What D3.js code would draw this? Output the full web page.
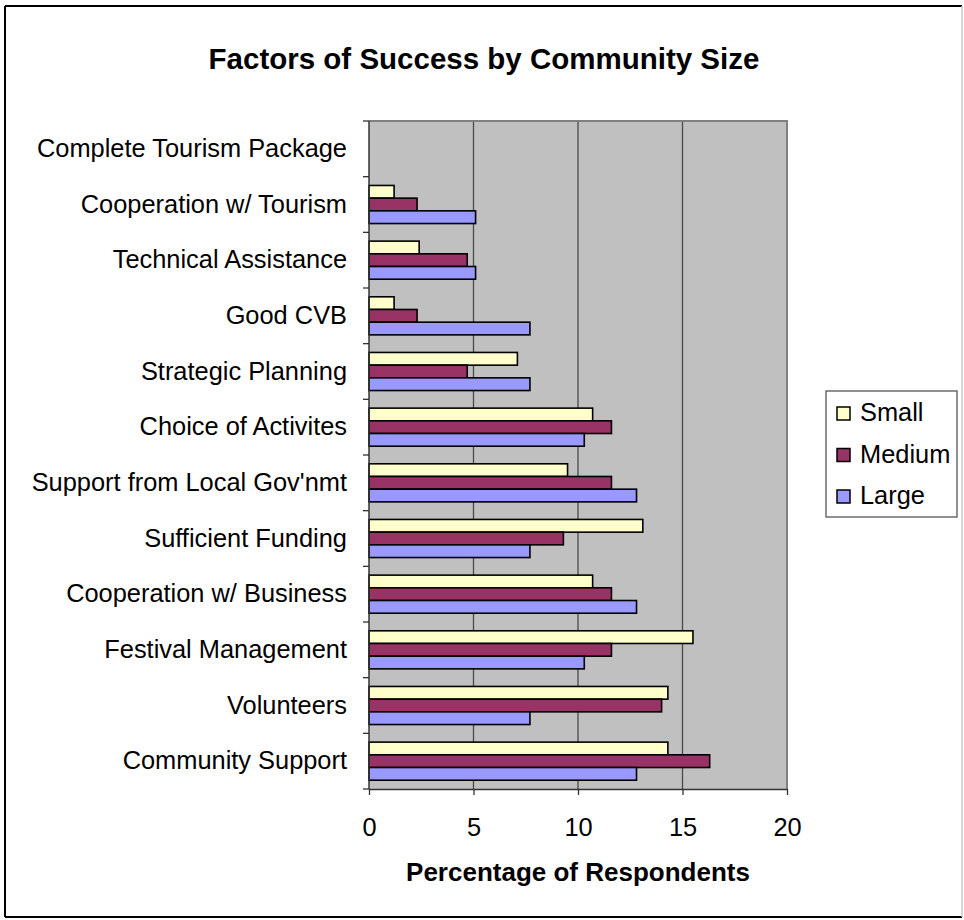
<!DOCTYPE html>
<html>
<head>
<meta charset="utf-8">
<script src="https://cdn.jsdelivr.net/npm/d3@7"></script>
<style>
  html, body { margin: 0; padding: 0; background: #fff; }
  svg { display: block; }
  text { font-family: "Liberation Sans", Arial, sans-serif; fill: #000; }
</style>
</head>
<body>
<svg id="chart" width="964" height="920"></svg>
<script>
// Categories, top to bottom as drawn
const categories = [
  "Complete Tourism Package",
  "Cooperation w/ Tourism",
  "Technical Assistance",
  "Good CVB",
  "Strategic Planning",
  "Choice of Activites",
  "Support from Local Gov'nmt",
  "Sufficient Funding",
  "Cooperation w/ Business",
  "Festival Management",
  "Volunteers",
  "Community Support"
];

const seriesNames = ["Small", "Medium", "Large"];

// Percentage of respondents by community size
const smallValues  = [0, 1.2, 2.4, 1.2, 7.1, 10.7, 9.5, 13.1, 10.7, 15.5, 14.3, 14.3];
const mediumValues = [0, 2.3, 4.7, 2.3, 4.7, 11.6, 11.6, 9.3, 11.6, 11.6, 14.0, 16.3];
const largeValues  = [0, 5.1, 5.1, 7.7, 7.7, 10.3, 12.8, 7.7, 12.8, 10.3, 7.7, 12.8];

const xTicks = [0, 5, 10, 15, 20];

const colors = { Small: "#FFFFCC", Medium: "#993366", Large: "#9999FF" };

const seriesValues = { Small: smallValues, Medium: mediumValues, Large: largeValues };

const svg = d3.select("#chart");

// Chart area frame
svg.append("rect").attr("x", 0).attr("y", 0).attr("width", 964).attr("height", 920).attr("fill", "#fff");
svg.append("line").attr("x1", 5).attr("x2", 962).attr("y1", 6).attr("y2", 6).attr("stroke", "#000").attr("stroke-width", 2);
svg.append("line").attr("x1", 5).attr("x2", 5).attr("y1", 6).attr("y2", 917).attr("stroke", "#000").attr("stroke-width", 2);
svg.append("line").attr("x1", 5).attr("x2", 962).attr("y1", 917).attr("y2", 917).attr("stroke", "#000").attr("stroke-width", 2);
svg.append("line").attr("x1", 962).attr("x2", 962).attr("y1", 6).attr("y2", 917).attr("stroke", "#c8c8c8").attr("stroke-width", 1.5);

const plot = { left: 369, right: 787, top: 121, bottom: 789 };

const x = d3.scaleLinear().domain([0, 20]).range([plot.left, plot.right]);
const y = d3.scaleBand().domain(categories).range([plot.top, plot.bottom]);
const bw = y.bandwidth();
const barH = bw * 0.228;
const sub = d3.scaleBand().domain(seriesNames)
  .range([(bw - 3 * barH) / 2, (bw + 3 * barH) / 2]);

// Plot background
svg.append("rect")
  .attr("x", plot.left).attr("y", plot.top)
  .attr("width", plot.right - plot.left).attr("height", plot.bottom - plot.top)
  .attr("fill", "#C0C0C0");

// Vertical gridlines
svg.append("g").selectAll("line")
  .data(xTicks.filter(d => d > 0 && d < 20))
  .join("line")
  .attr("x1", d => x(d)).attr("x2", d => x(d))
  .attr("y1", plot.top).attr("y2", plot.bottom)
  .attr("stroke", "#4a4a4a").attr("stroke-width", 1.3);

// Plot border (top and right)
svg.append("path")
  .attr("d", `M${plot.left},${plot.top}H${plot.right}V${plot.bottom}`)
  .attr("fill", "none").attr("stroke", "#808080").attr("stroke-width", 2);

// Bars
const rows = [];
categories.forEach((c, i) => {
  seriesNames.forEach(s => rows.push({ cat: c, series: s, value: seriesValues[s][i] }));
});

svg.append("g").selectAll("rect")
  .data(rows.filter(d => d.value > 0))
  .join("rect")
  .attr("x", x(0))
  .attr("y", d => y(d.cat) + sub(d.series))
  .attr("width", d => x(d.value) - x(0))
  .attr("height", sub.bandwidth())
  .attr("fill", d => colors[d.series])
  .attr("stroke", "#000")
  .attr("stroke-width", 1.6);

// Y axis (category)
const yAxis = svg.append("g")
  .attr("transform", `translate(${plot.left},0)`)
  .call(d3.axisLeft(y).tickSize(0).tickPadding(22));
yAxis.select(".domain").remove();
yAxis.selectAll("text")
  .style("font-size", "25.4px")
  .style("font-family", "'Liberation Sans', Arial, sans-serif");

// Category boundary ticks
svg.append("g").selectAll("line")
  .data(categories.concat(["__end"]))
  .join("line")
  .attr("x1", plot.left - 6).attr("x2", plot.left)
  .attr("y1", (d, i) => plot.top + i * bw)
  .attr("y2", (d, i) => plot.top + i * bw)
  .attr("stroke", "#333").attr("stroke-width", 1.3);

svg.append("line")
  .attr("x1", plot.left).attr("x2", plot.left)
  .attr("y1", plot.top).attr("y2", plot.bottom)
  .attr("stroke", "#333").attr("stroke-width", 1.5);

// X axis
const xAxis = svg.append("g")
  .attr("transform", `translate(0,${plot.bottom})`)
  .call(d3.axisBottom(x).tickValues(xTicks).tickSize(6).tickPadding(23).tickSizeOuter(0));
xAxis.select(".domain").attr("stroke", "#333").attr("stroke-width", 1.5);
xAxis.selectAll(".tick line").attr("stroke", "#333").attr("stroke-width", 1.3);
xAxis.selectAll("text")
  .style("font-size", "25.4px")
  .style("font-family", "'Liberation Sans', Arial, sans-serif");

// Axis title
svg.append("text")
  .attr("x", (plot.left + plot.right) / 2)
  .attr("y", 881)
  .attr("text-anchor", "middle")
  .style("font-size", "26px")
  .style("font-weight", "bold")
  .text("Percentage of Respondents");

// Chart title
svg.append("text")
  .attr("x", 484)
  .attr("y", 69)
  .attr("text-anchor", "middle")
  .style("font-size", "29.5px")
  .style("font-weight", "bold")
  .text("Factors of Success by Community Size");

// Legend
const legend = svg.append("g");
legend.append("rect")
  .attr("x", 826).attr("y", 391).attr("width", 131).attr("height", 126)
  .attr("fill", "#fff").attr("stroke", "#555").attr("stroke-width", 1.3);

const legendY = d3.scalePoint().domain(seriesNames).range([412, 495]);
const item = legend.selectAll("g.item").data(seriesNames).join("g").attr("class", "item");
item.append("rect")
  .attr("x", 837).attr("y", d => legendY(d) - 5)
  .attr("width", 13).attr("height", 13)
  .attr("fill", d => colors[d]).attr("stroke", "#000").attr("stroke-width", 1.5);
item.append("text")
  .attr("x", 860).attr("y", d => legendY(d) + 9)
  .style("font-size", "25.4px")
  .text(d => d);
</script>
</body>
</html>
